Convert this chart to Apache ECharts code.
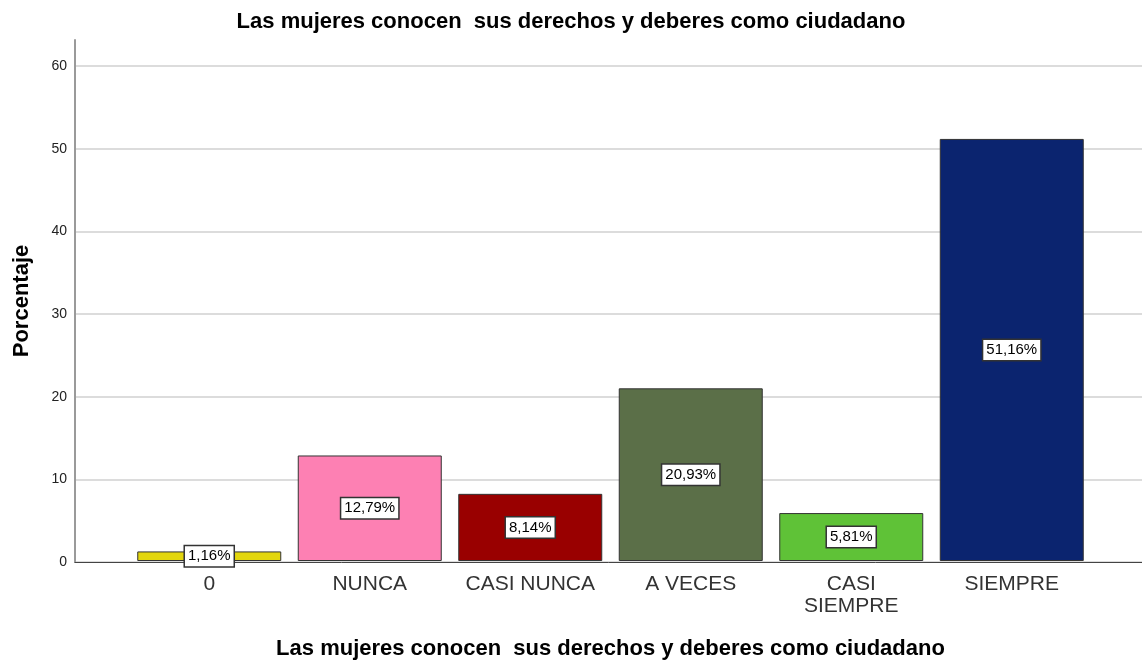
<!DOCTYPE html>
<html>
<head>
<meta charset="utf-8">
<script src="https://cdn.jsdelivr.net/npm/echarts@6/dist/echarts.min.js"></script>
<style>
    html, body { margin: 0; padding: 0; background: #fff; }
    #chart { width: 1142px; height: 665px; }
</style>
</head>
<body>
<div id="chart"></div>
<script>
    // datos
    var categorias = ['0', 'NUNCA', 'CASI NUNCA', 'A VECES', 'CASI\nSIEMPRE', 'SIEMPRE'];
    var porcentajes = [1.16, 12.79, 8.14, 20.93, 5.81, 51.16];
    var colores = ['#e3d60e', '#fd80b3', '#990000', '#5b6f48', '#5fc237', '#0b246f'];
    var ticksY = [0, 10, 20, 30, 40, 50, 60];

    var titulo = 'Las mujeres conocen  sus derechos y deberes como ciudadano';
    var fuente = '"Liberation Sans", Arial, sans-serif';

    var myChart = echarts.init(document.getElementById('chart'));

    var datos = porcentajes.map(function (v, i) {
        return { value: v, itemStyle: { color: colores[i] } };
    });

    var option = {
        animation: false,
        textStyle: { fontFamily: fuente },
        title: {
            text: titulo,
            left: 'center',
            top: 6,
            textStyle: { fontSize: 22, fontWeight: 'bold', color: '#000', fontFamily: fuente }
        },
        grid: [
            // rejilla y etiquetas del eje Y
            { left: 75, right: 0, top: 66, bottom: 103 },
            // línea del eje Y (sube más allá de 60)
            { left: 75, right: 0, top: 40, bottom: 103 },
            // barras
            { left: 129, right: 50, top: 66, bottom: 103 }
        ],
        xAxis: [
            {
                gridIndex: 0, type: 'value', min: 0, max: 1,
                axisLine: { show: true, onZero: false, lineStyle: { color: '#444', width: 1 } },
                axisTick: { show: false }, axisLabel: { show: false }, splitLine: { show: false }
            },
            {
                gridIndex: 1, type: 'value', min: 0, max: 1, show: false
            },
            {
                gridIndex: 2, type: 'category', data: categorias,
                axisLine: { show: false }, axisTick: { show: false },
                axisLabel: {
                    interval: 0, hideOverlap: false,
                    fontSize: 21, color: '#333', margin: 12, lineHeight: 22, fontFamily: fuente
                },
                name: titulo,
                nameLocation: 'middle',
                nameGap: 77,
                nameTextStyle: { fontSize: 22, fontWeight: 'bold', color: '#000', fontFamily: fuente }
            }
        ],
        yAxis: [
            {
                gridIndex: 0, type: 'value', min: 0, max: 60, interval: 10,
                axisLine: { show: false }, axisTick: { show: false },
                axisLabel: {
                    fontSize: 14, color: '#222', margin: 8, fontFamily: fuente,
                    formatter: function (v) { return ticksY.indexOf(v) >= 0 ? String(v) : ''; }
                },
                splitLine: { show: true, lineStyle: { color: '#d0d0d0', width: 1.5 } }
            },
            {
                gridIndex: 1, type: 'value', min: 0, max: 63,
                axisLine: { show: true, lineStyle: { color: '#9a9a9a', width: 2 } },
                axisTick: { show: false }, axisLabel: { show: false }, splitLine: { show: false },
                name: 'Porcentaje',
                nameLocation: 'middle',
                nameRotate: 90,
                nameGap: 42,
                nameTextStyle: { fontSize: 22, fontWeight: 'bold', color: '#000', fontFamily: fuente }
            },
            {
                gridIndex: 2, type: 'value', min: 0, max: 60, show: false
            }
        ],
        series: [
            {
                type: 'bar',
                xAxisIndex: 2,
                yAxisIndex: 2,
                data: datos,
                barWidth: 144,
                itemStyle: { borderColor: '#333', borderWidth: 1 },
                label: {
                    show: true,
                    position: 'inside',
                    color: '#000',
                    fontSize: 15,
                    fontFamily: fuente,
                    backgroundColor: '#fff',
                    borderColor: '#333',
                    borderWidth: 1.5,
                    padding: [3, 3, 2, 3],
                    formatter: function (p) {
                        return p.value.toFixed(2).replace('.', ',') + '%';
                    }
                }
            }
        ]
    };

    myChart.setOption(option);
</script>
</body>
</html>
